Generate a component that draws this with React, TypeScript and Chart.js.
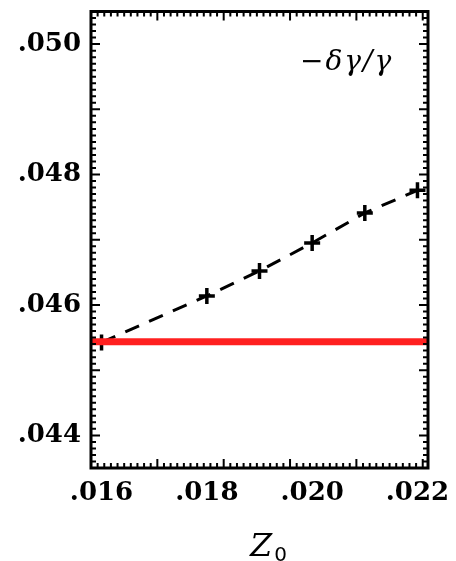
import React, { useEffect, useRef } from "react";
import { Chart, registerables } from "chart.js";

Chart.register(...registerables);

// ---- data ----
const z0Values = [0.016, 0.018, 0.019, 0.02, 0.021, 0.022];
const deltaGammaValues = [0.045425, 0.046139, 0.046522, 0.046951, 0.047411, 0.047758];
const referenceLevel = 0.045435;
const xRange = [0.0158, 0.0222];
const yRange = [0.0435, 0.0505];
const xTickLabels = [0.016, 0.018, 0.02, 0.022];
const yTickLabels = [0.044, 0.046, 0.048, 0.05];
const xMajorTicks = [0.0158, 0.01706, 0.01832, 0.01958, 0.02084, 0.0221];
const yMajorTicks = [0.044, 0.045, 0.046, 0.047, 0.048, 0.049, 0.05];
const xMinorDivisions = 10;
const yMinorStep = 0.0001;
const legendText = "\u2212\u03B4\u03B3/\u03B3";
const xTitleMain = "Z";
const xTitleSub = "0";

const fmt = (v: number) => v.toFixed(3).replace(/^0/, "");

const framePlugin = {
  id: "idlFrame",
  afterDatasetsDraw(chart: any) {
    const { ctx, chartArea: a } = chart;
    const x = chart.scales.x;
    const y = chart.scales.y;
    ctx.save();
    ctx.strokeStyle = "#000";
    ctx.lineCap = "butt";

    const xTick = (v: number, len: number) => {
      const px = x.getPixelForValue(v);
      if (px < a.left - 0.5 || px > a.right + 0.5) return;
      ctx.moveTo(px, a.bottom);
      ctx.lineTo(px, a.bottom - len);
      ctx.moveTo(px, a.top);
      ctx.lineTo(px, a.top + len);
    };
    const yTick = (v: number, len: number) => {
      const py = y.getPixelForValue(v);
      if (py < a.top - 0.5 || py > a.bottom + 0.5) return;
      ctx.moveTo(a.left, py);
      ctx.lineTo(a.left + len, py);
      ctx.moveTo(a.right, py);
      ctx.lineTo(a.right - len, py);
    };
    ctx.lineWidth = 2;
    ctx.beginPath();
    const xStep = xMajorTicks[1] - xMajorTicks[0];
    for (let i = 0; i < xMajorTicks.length; i++) {
      xTick(xMajorTicks[i], 9);
      for (let k = 1; k < xMinorDivisions; k++) {
        xTick(xMajorTicks[i] + (k * xStep) / xMinorDivisions, 5);
      }
    }
    for (const v of yMajorTicks) yTick(v, 9);
    const n = Math.round((yRange[1] - yRange[0]) / yMinorStep);
    for (let i = 0; i <= n; i++) {
      const v = yRange[0] + i * yMinorStep;
      if (yMajorTicks.some((m) => Math.abs(m - v) < 1e-9)) continue;
      yTick(v, 5);
    }
    ctx.stroke();

    ctx.lineWidth = 3;
    ctx.strokeRect(a.left, a.top, a.right - a.left, a.bottom - a.top);

    ctx.fillStyle = "#000";
    ctx.textBaseline = "alphabetic";
    ctx.textAlign = "left";
    ctx.font = 'italic 28px "DejaVu Serif"';
    try {
      (ctx as any).letterSpacing = "2px";
    } catch (e) {}
    ctx.fillText(legendText, a.left + 209, 70);
    try {
      (ctx as any).letterSpacing = "0px";
    } catch (e) {}

    ctx.font = 'italic 32px "DejaVu Serif"';
    const zw = ctx.measureText(xTitleMain).width;
    const zx = 250;
    ctx.fillText(xTitleMain, zx, 556);
    ctx.font = '20px "DejaVu Sans"';
    ctx.fillText(xTitleSub, zx + zw + 2, 561);
    ctx.restore();
  },
};

export default function App() {
  const ref = useRef<HTMLCanvasElement | null>(null);
  useEffect(() => {
    if (!ref.current) return;
    const chart = new Chart(ref.current, {
      type: "scatter",
      data: {
        datasets: [
          {
            label: "reference",
            data: [
              { x: xRange[0], y: referenceLevel },
              { x: xRange[1], y: referenceLevel },
            ],
            showLine: true,
            borderColor: "#ff2020",
            backgroundColor: "#ff2020",
            borderWidth: 7,
            pointRadius: 0,
            order: 0,
          },
          {
            label: "-dgamma/gamma",
            data: z0Values.map((v, i) => ({ x: v, y: deltaGammaValues[i] })),
            showLine: true,
            borderColor: "#000",
            backgroundColor: "#000",
            borderWidth: 3,
            borderDash: [15, 11],
            pointStyle: "cross",
            pointRadius: 8,
            pointBorderWidth: 3.5,
            pointBorderColor: "#000",
            order: 1,
          },
        ],
      },
      options: {
        responsive: false,
        animation: false,
        layout: { padding: { left: 0, top: 11, right: 28, bottom: 0 } },
        plugins: { legend: { display: false }, tooltip: { enabled: false } },
        scales: {
          x: {
            type: "linear",
            min: xRange[0],
            max: xRange[1],
            grid: { display: false, drawTicks: false },
            border: { display: false },
            afterBuildTicks: (s: any) => {
              s.ticks = xTickLabels.map((v) => ({ value: v }));
            },
            afterFit: (s: any) => {
              s.height = 93;
              s.paddingLeft = 0;
              s.paddingRight = 0;
            },
            ticks: {
              padding: 10,
              color: "#000",
              maxRotation: 0,
              font: { family: "DejaVu Serif", size: 26, weight: "bold" },
              callback: (v: any) => fmt(Number(v)),
            },
          },
          y: {
            type: "linear",
            min: yRange[0],
            max: yRange[1],
            grid: { display: false, drawTicks: false },
            border: { display: false },
            afterBuildTicks: (s: any) => {
              s.ticks = yTickLabels.map((v) => ({ value: v }));
            },
            afterFit: (s: any) => {
              s.width = 91;
              s.paddingTop = 0;
              s.paddingBottom = 0;
            },
            ticks: {
              padding: 10,
              color: "#000",
              font: { family: "DejaVu Serif", size: 26, weight: "bold" },
              callback: (v: any) => fmt(Number(v)),
            },
          },
        },
      },
      plugins: [framePlugin],
    });
    return () => chart.destroy();
  }, []);
  return (
    <div style={{ position: "absolute", left: 0, top: 0, width: 456, height: 561, background: "#fff" }}>
      <canvas ref={ref} width={456} height={561} />
    </div>
  );
}
